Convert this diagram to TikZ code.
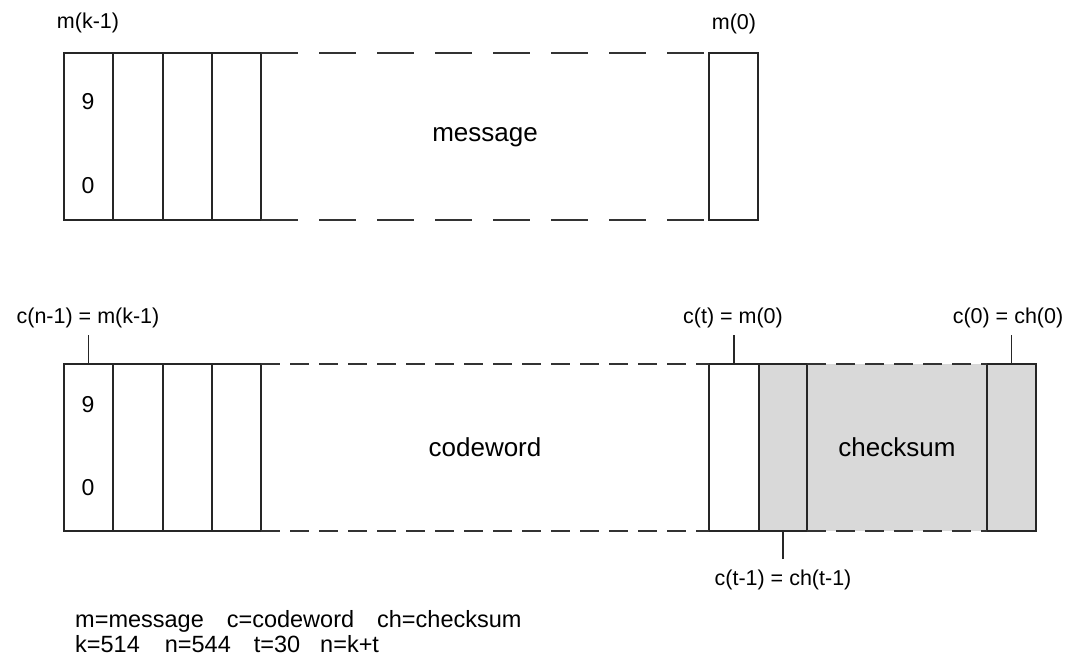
\documentclass[tikz,border=0pt]{standalone}
\usepackage{fontspec}
\setmainfont{Liberation Sans}
\begin{document}
\begin{tikzpicture}[x=1pt,y=-1pt,
  cell/.style={draw=black!85, line width=1.4pt, inner sep=0pt, outer sep=0pt,
    anchor=north west, minimum height=167pt},
  graycell/.style={cell, fill=black!15},
  dashlong/.style={draw=black!80, line width=1.4pt, dash pattern=on 37pt off 21pt},
  dashshort/.style={draw=black!80, line width=1.4pt, dash pattern=on 19pt off 10pt},
  tick/.style={draw=black!85, line width=1.4pt},
  lbl/.style={font=\fontsize{21.5}{24}\selectfont, inner sep=0pt},
  big/.style={font=\fontsize{26}{30}\selectfont, inner sep=0pt},
  digit/.style={font=\fontsize{23}{26}\selectfont, inner sep=0pt},
  legend/.style={font=\fontsize{23.5}{26}\selectfont, inner sep=0pt, anchor=base west}]
\useasboundingbox (0,0) rectangle (1069,656);
\fill[white] (0,0) rectangle (1069,656);

% ---------- top row: message ----------
\node[cell, minimum width=49pt] (t1) at (64,53) {};
\node[cell, minimum width=50pt] (t2) at (113,53) {};
\node[cell, minimum width=49pt] (t3) at (163,53) {};
\node[cell, minimum width=49pt] (t4) at (212,53) {};
\node[cell, minimum width=49pt] (t0) at (709,53) {};
\draw[dashlong] (t4.north east) -- (t0.north west);
\draw[dashlong] (t4.south east) -- (t0.south west);
\node[digit] (t9) at (88,102) {9};
\node[digit] (tz) at (88,186) {0};
\node[big] (msg) at (485,137) {message};
\node[lbl] (lmk) at (88,23) {m(k-1)};
\node[lbl] (lm0) at (734,24) {m(0)};

% ---------- bottom row: codeword ----------
\fill[black!15] (807,364) rectangle (987,531);
\node[cell, minimum width=49pt] (b1) at (64,364) {};
\node[cell, minimum width=50pt] (b2) at (113,364) {};
\node[cell, minimum width=49pt] (b3) at (163,364) {};
\node[cell, minimum width=49pt] (b4) at (212,364) {};
\node[cell, minimum width=50pt] (b0) at (709,364) {};
\node[graycell, minimum width=48pt] (g1) at (759,364) {};
\node[graycell, minimum width=49pt] (g0) at (987,364) {};
\draw[dashshort] (b4.north east) -- (b0.north west);
\draw[dashshort] (b4.south east) -- (b0.south west);
\draw[dashshort] (g1.north east) -- (g0.north west);
\draw[dashshort] (g1.south east) -- (g0.south west);
\node[digit] (b9) at (88,405) {9};
\node[digit] (bz) at (88,488) {0};
\node[big] (cw) at (485,447) {codeword};
\node[big] (cs) at (897,447) {checksum};

% labels and ticks
\node[lbl] (l1) at (88,318) {c(n-1) = m(k-1)};
\node[lbl] (l2) at (733,318) {c(t) = m(0)};
\node[lbl] (l3) at (1008,318) {c(0) = ch(0)};
\node[lbl] (l4) at (783,580) {c(t-1) = ch(t-1)};
\coordinate (k1) at (b1.north |- 0,335);
\coordinate (k2) at (b0.north |- 0,335);
\coordinate (k3) at (g0.north |- 0,335);
\coordinate (k4) at (g1.south |- 0,559);
\draw[tick] (k1) -- (b1.north);
\draw[tick] (k2) -- (b0.north);
\draw[tick] (k3) -- (g0.north);
\draw[tick] (k4) -- (g1.south);

% legend
\node[legend] (lg1) at (75,627) {m=message\hspace*{23pt}c=codeword\hspace*{23pt}ch=checksum};
\node[legend] (lg2) at (75,652) {k=514\hspace*{25pt}n=544\hspace*{23pt}t=30\hspace*{20pt}n=k+t};
\end{tikzpicture}
\end{document}
